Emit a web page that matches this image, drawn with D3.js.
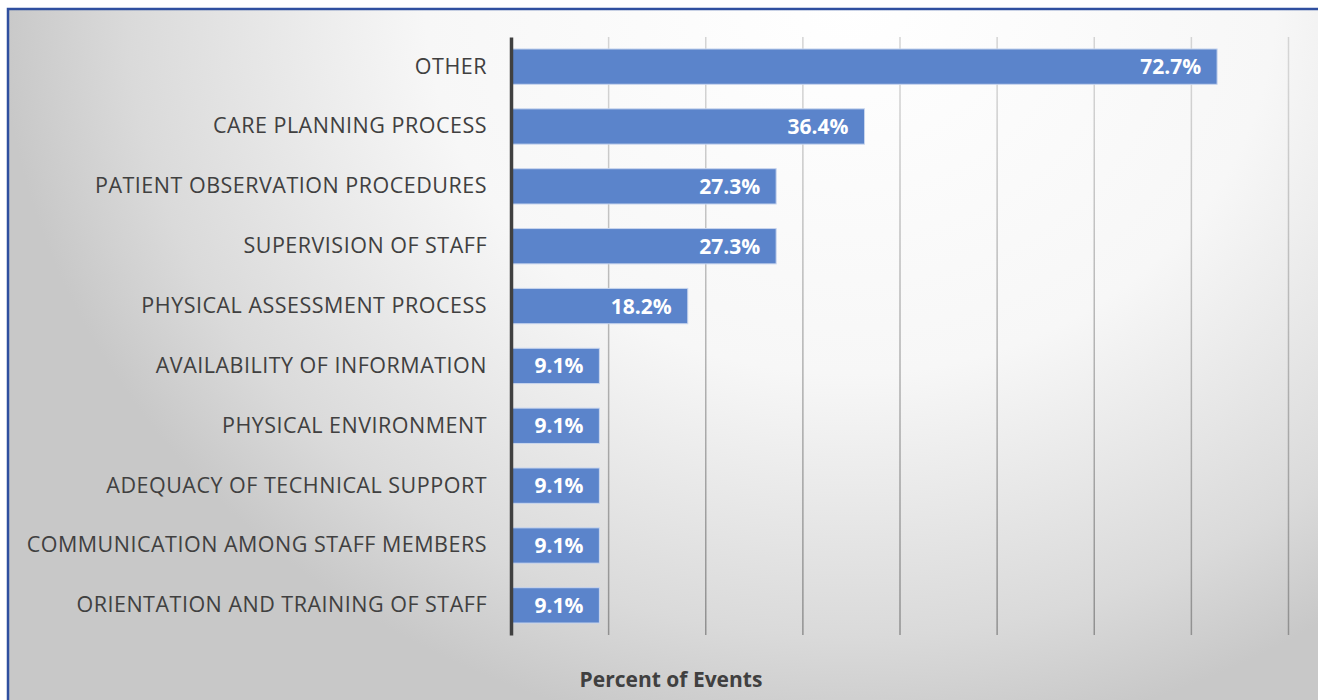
<!DOCTYPE html>
<html>
<head>
<meta charset="utf-8">
<script src="https://cdn.jsdelivr.net/npm/d3@7"></script>
<style>
  body { margin: 0; background: #fff; }
  svg { display: block; font-family: "Open Sans", sans-serif; }
  .cat-label { fill: #404040; font-size: 21.5px; letter-spacing: 0.5px; font-family: "Open Sans", sans-serif; }
  .val-label { fill: #fff; font-size: 21px; font-weight: bold; }
  .axis-title { fill: #404040; font-size: 21px; font-weight: bold; }
</style>
</head>
<body>
<svg width="1318" height="700"></svg>
<script>
var categories = [
  "OTHER",
  "CARE PLANNING PROCESS",
  "PATIENT OBSERVATION PROCEDURES",
  "SUPERVISION OF STAFF",
  "PHYSICAL ASSESSMENT PROCESS",
  "AVAILABILITY OF INFORMATION",
  "PHYSICAL ENVIRONMENT",
  "ADEQUACY OF TECHNICAL SUPPORT",
  "COMMUNICATION AMONG STAFF MEMBERS",
  "ORIENTATION AND TRAINING OF STAFF"
];
var percents = [72.7, 36.4, 27.3, 27.3, 18.2, 9.1, 9.1, 9.1, 9.1, 9.1];
var gridTicks = [10, 20, 30, 40, 50, 60, 70, 80];
var axisTitle = "Percent of Events";

var data = categories.map(function(c, i){ return {cat: c, value: percents[i]}; });

var svg = d3.select("svg"),
    margin = {top: 37, right: 30, bottom: 65, left: 511},
    width = +svg.attr("width") - margin.left - margin.right,
    height = +svg.attr("height") - margin.top - margin.bottom;

var defs = svg.append("defs");

var bg = defs.append("radialGradient")
    .attr("id", "bg-grad")
    .attr("gradientUnits", "userSpaceOnUse")
    .attr("cx", 850).attr("cy", 0).attr("r", 850)
    .attr("gradientTransform", "translate(850,0) scale(1,0.88) translate(-850,0)");
bg.append("stop").attr("offset", "0").attr("stop-color", "#ffffff");
bg.append("stop").attr("offset", "0.5").attr("stop-color", "#f7f7f7");
bg.append("stop").attr("offset", "0.85").attr("stop-color", "#dadada");
bg.append("stop").attr("offset", "1").attr("stop-color", "#c8c8c8");

var gridGrad = defs.append("linearGradient")
    .attr("id", "grid-grad")
    .attr("gradientUnits", "userSpaceOnUse")
    .attr("x1", 0).attr("y1", margin.top).attr("x2", 0).attr("y2", margin.top + height);
gridGrad.append("stop").attr("offset", "0").attr("stop-color", "#d4d4d4");
gridGrad.append("stop").attr("offset", "1").attr("stop-color", "#8c8c8c");

// background panel with blue frame
svg.append("rect")
    .attr("x", 8).attr("y", 9)
    .attr("width", 1340).attr("height", 720)
    .attr("fill", "url(#bg-grad)")
    .attr("stroke", "#2f4f9f")
    .attr("stroke-width", 2.5);

var x = d3.scaleLinear().domain([0, 80]).range([0, 777]),
    y = d3.scaleBand().domain(categories).range([0, height]).paddingInner(0.41).paddingOuter(0.2);

var g = svg.append("g")
    .attr("transform", "translate(" + margin.left + "," + margin.top + ")");

// vertical gridlines
g.append("g")
    .attr("class", "grid")
    .call(d3.axisBottom(x).tickValues(gridTicks).tickSize(height).tickFormat(""))
    .call(function(s){
      s.select(".domain").remove();
      s.selectAll(".tick line")
        .attr("stroke", "url(#grid-grad)")
        .attr("stroke-width", 1.5);
    });

g.selectAll(".bar").data(data).enter().append("rect")
    .attr("class", "bar")
    .attr("x", 1)
    .attr("y", function(d){ return y(d.cat); })
    .attr("width", function(d){ return x(d.value) - 1; })
    .attr("height", y.bandwidth())
    .attr("fill", "#5b84cb")
    .attr("stroke", "#c9d6ee")
    .attr("stroke-width", 1);

g.selectAll(".val-label").data(data).enter().append("text")
    .attr("class", "val-label")
    .attr("x", function(d){ return x(d.value) - 16; })
    .attr("y", function(d){ return y(d.cat) + y.bandwidth() / 2; })
    .attr("dy", "0.36em")
    .attr("text-anchor", "end")
    .text(function(d){ return d.value.toFixed(1) + "%"; });

// category axis
var yAxis = g.append("g")
    .call(d3.axisLeft(y).tickSize(0).tickPadding(24));
yAxis.attr("font-family", null).attr("font-size", null);
yAxis.select(".domain")
    .attr("stroke", "#404040")
    .attr("stroke-width", 3.5);
yAxis.selectAll(".tick text")
    .attr("class", "cat-label")
    .attr("fill", null);

svg.append("text")
    .attr("class", "axis-title")
    .attr("x", 671)
    .attr("y", 687)
    .attr("text-anchor", "middle")
    .text(axisTitle);
</script>
</body>
</html>
